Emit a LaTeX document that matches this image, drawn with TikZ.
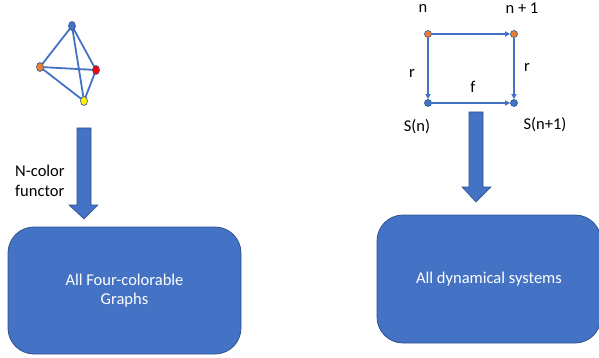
\documentclass[tikz,border=0pt]{standalone}
\usepackage{fontspec}
\setmainfont{Carlito}
\usetikzlibrary{shapes.geometric,arrows.meta,backgrounds}
\definecolor{oblue}{HTML}{4472C4}
\definecolor{dblue}{HTML}{2F528F}
\definecolor{oorange}{HTML}{ED7D31}
\tikzset{
  txt/.style={font=\fontsize{16.5}{19.8}\selectfont, inner sep=0pt, text=black},
  gdot/.style={ellipse, draw=dblue, line width=0.6pt, minimum width=7pt, minimum height=9pt, inner sep=0pt},
  sdot/.style={circle, draw=dblue, line width=0.6pt, fill=oblue, minimum size=7pt, inner sep=0pt},
  gedge/.style={oblue, line width=1.8pt},
  sedge/.style={oblue, line width=1.5pt, -{Triangle[length=5pt,width=5pt]}},
  bigbox/.style={draw=dblue, line width=0.8pt, fill=oblue, rounded corners=26pt, text=white,
    align=center, font=\fontsize{16.5}{19.8}\selectfont},
  blockarrow/.style={draw=dblue, line width=0.6pt, fill=oblue}
}
\begin{document}
\begin{tikzpicture}[x=1pt,y=-1pt]
\useasboundingbox (0,0) rectangle (599,358);
% left graph
\node[gdot, fill=oblue] (gb) at (72,26) {};
\node[gdot, fill=oorange] (go) at (40,67) {};
\node[gdot, fill=red] (gr) at (96,70) {};
\node[gdot, fill=yellow] (gy) at (84,101) {};
\begin{scope}[on background layer]
\draw[gedge] (gb.center) -- (go.center);
\draw[gedge] (gb.center) -- (gr.center);
\draw[gedge] (gb.center) -- (gy.center);
\draw[gedge] (go.center) -- (gr.center);
\draw[gedge] (go.center) -- (gy.center);
\draw[gedge] (gr.center) -- (gy.center);
\end{scope}
% left block arrow
\draw[blockarrow] (77,128) -- (91,128) -- (91,205) -- (98,205) -- (84,219) -- (69,205) -- (77,205) -- cycle;
\node[txt, anchor=west, align=left] (lbl) at (15,181) {N-color\\functor};
% left box
\node[bigbox, minimum width=233pt, minimum height=127pt] (lbox) at (124.5,290.5) {All Four-colorable\\Graphs};
% right diagram
\node[sdot, fill=oorange] (n) at (428,34) {};
\node[sdot, fill=oorange] (n1) at (514,34) {};
\node[sdot] (s) at (428,103) {};
\node[sdot] (s1) at (514,103) {};
\draw[sedge] (n) -- (n1);
\draw[sedge] (n) -- (s);
\draw[sedge] (n1) -- (s1);
\draw[sedge] (s) -- (s1);
\node[txt] (ln) at (423,9) {n};
\node[txt] (ln1) at (522,8) {n + 1};
\node[txt] (lr1) at (412,73) {r};
\node[txt] (lr2) at (527,67) {r};
\node[txt] (lf) at (473,87) {f};
\node[txt] (ls) at (417,127) {S(n)};
\node[txt] (ls1) at (545,125) {S(n+1)};
% right block arrow
\draw[blockarrow] (469,112) -- (483,112) -- (483,187) -- (491,187) -- (476,202) -- (462,187) -- (469,187) -- cycle;
% right box
\node[bigbox, minimum width=224pt, minimum height=128pt] (rbox) at (489,279) {All dynamical systems};
\end{tikzpicture}
\end{document}
